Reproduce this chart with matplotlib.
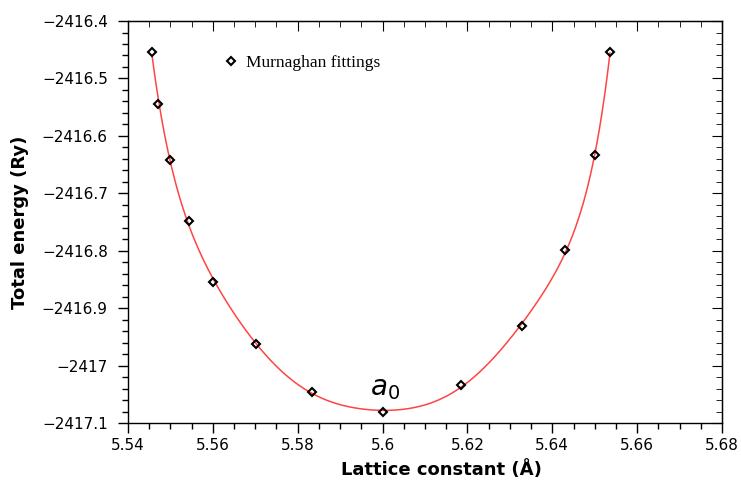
import numpy as np
import matplotlib
matplotlib.use('Agg')
import matplotlib.pyplot as plt
from matplotlib.ticker import MultipleLocator, FuncFormatter

# lattice constant (Angstrom) and total energy (Ry)
lattice = [5.5457, 5.5471, 5.5499, 5.5544, 5.5600, 5.5702, 5.5834,
           5.6001, 5.6185, 5.6329, 5.6430, 5.6501, 5.6536]
energy = [-2416.454, -2416.545, -2416.642, -2416.748, -2416.854, -2416.962, -2417.046,
          -2417.081, -2417.034, -2416.931, -2416.799, -2416.633, -2416.454]

plt.rcParams['font.family'] = ['DejaVu Sans']

fig = plt.figure(figsize=(7.41, 4.82), dpi=100)
ax = fig.add_axes([0.1727, 0.1224, 0.8017, 0.834])

# smooth fitted curve (centred/scaled polynomial fit)
x = np.array(lattice)
y = np.array(energy)
xm, xsc = x.mean(), x.std()
coef = np.polyfit((x - xm) / xsc, y + 2417, 8)
xs = np.linspace(x.min(), x.max(), 400)
ax.plot(xs, np.polyval(coef, (xs - xm) / xsc) - 2417, color='#ff4444', lw=1.1, zorder=2)
ax.plot(lattice, energy, ls='none', marker='D', ms=4.5, mfc='none', mec='black',
        mew=1.5, label='Murnaghan fittings', zorder=3)

ax.text(5.6005, -2417.063, '$a_0$', fontsize=20, ha='center', va='bottom')

ax.set_xlim(5.54, 5.68)
ax.set_ylim(-2417.1, -2416.4)
ax.xaxis.set_major_locator(MultipleLocator(0.02))
ax.xaxis.set_minor_locator(MultipleLocator(0.005))
ax.yaxis.set_major_locator(MultipleLocator(0.1))
ax.yaxis.set_minor_locator(MultipleLocator(0.02))
fmt = FuncFormatter(lambda v, p: '{:g}'.format(round(v, 4)).replace('-', '\u2212'))
ax.xaxis.set_major_formatter(fmt)
ax.yaxis.set_major_formatter(fmt)

ax.tick_params(which='both', direction='out', labelsize=11, width=1, colors='black')
ax.tick_params(which='major', length=7.5)
ax.tick_params(which='minor', length=4.5)
ax.tick_params(axis='y', pad=7)
ax.tick_params(axis='x', pad=3)
for spine in ax.spines.values():
    spine.set_linewidth(1)

# inward ticks on top and right
secx = ax.secondary_xaxis('top')
secx.xaxis.set_major_locator(MultipleLocator(0.02))
secx.xaxis.set_minor_locator(MultipleLocator(0.005))
secx.tick_params(which='both', direction='in', labeltop=False)
secx.tick_params(which='major', length=7.5)
secx.tick_params(which='minor', length=4.5)
secy = ax.secondary_yaxis('right')
secy.yaxis.set_major_locator(MultipleLocator(0.1))
secy.yaxis.set_minor_locator(MultipleLocator(0.02))
secy.tick_params(which='both', direction='in', labelright=False)
secy.tick_params(which='major', length=7.5)
secy.tick_params(which='minor', length=4.5)

ax.set_xlabel('Lattice constant (Å)', fontsize=13, fontweight='bold')
ax.set_ylabel('Total energy (Ry)', fontsize=13, fontweight='bold')
ax.xaxis.set_label_coords(0.528, -0.092)
ax.yaxis.set_label_coords(-0.166, 0.5)

ax.legend(loc='center left', bbox_to_anchor=(0.161, 0.8955), frameon=False,
          borderpad=0, borderaxespad=0, handlelength=0.8, handletextpad=0.5,
          prop={'family': 'Liberation Serif', 'size': 12.5})

fig.savefig('out.png', dpi=100)
